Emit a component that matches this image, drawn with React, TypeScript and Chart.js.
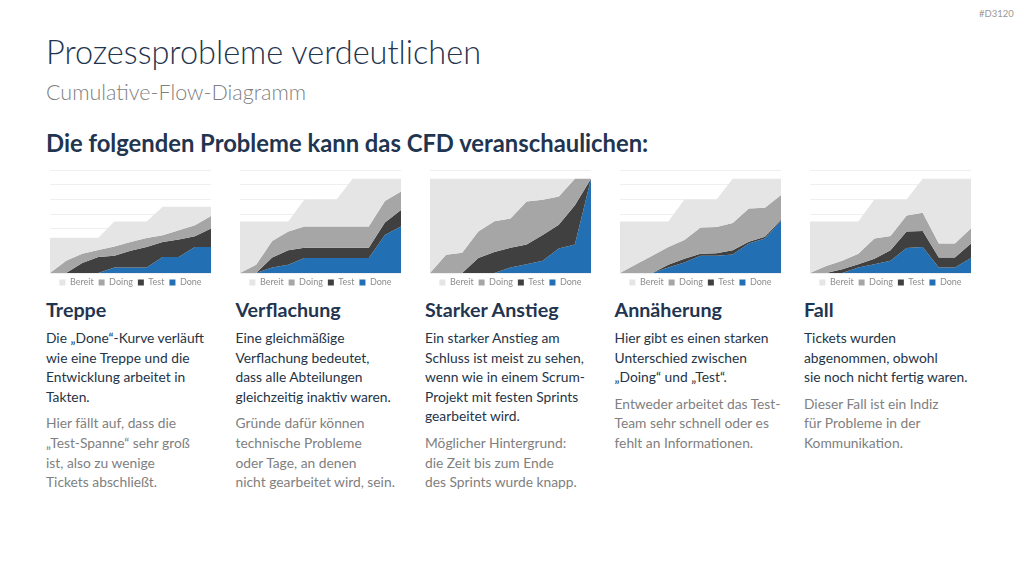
import React, { useEffect, useRef } from "react";
import { Chart, registerables } from "chart.js";

Chart.register(...registerables);

const FONT = "Lato, 'Open Sans', sans-serif";

const days = ["1", "2", "3", "4", "5", "6", "7", "8", "9", "10", "11"];
const seriesNames = ["Bereit", "Doing", "Test", "Done"];
const seriesColors = ["#e5e5e5", "#a6a6a6", "#404040", "#2270b3"];

// Treppe
const treppeBereit = [12, 12, 12, 12, 17.5, 17.5, 17.5, 22.5, 22.5, 22.5, 22.5];
const treppeDoing = [0, 4.2, 6.5, 7.8, 9, 10.5, 11.9, 12.8, 14.5, 16.2, 19.4];
const treppeTest = [0, 0, 3.4, 5.4, 5.9, 7.6, 8.8, 10.5, 11.4, 12.5, 15.1];
const treppeDone = [0, 0, 0, 0, 1.9, 1.9, 1.9, 5.4, 5.4, 8.8, 8.8];

// Verflachung
const verflBereit = [17.5, 17.5, 17.5, 17.5, 25, 25, 25, 32, 32, 32, 32];
const verflDoing = [0, 2.8, 10.9, 14.1, 15.8, 15.8, 15.8, 15.8, 15.8, 24.5, 27.7];
const verflTest = [0, 0, 5.3, 7.7, 8.6, 8.6, 8.6, 8.6, 8.6, 17.2, 21.4];
const verflDone = [0, 0, 1.9, 2.8, 5.1, 5.1, 5.1, 5.1, 5.1, 12.9, 15.8];

// Starker Anstieg
const anstiegBereit = [32, 32, 32, 32, 32, 32, 32, 32, 32, 32, 32];
const anstiegDoing = [0, 6.2, 6.9, 14.1, 17.6, 18.5, 24.3, 24.9, 26, 32, 32];
const anstiegTest = [0, 0, 0, 5.1, 7.1, 8.6, 9.7, 12.9, 16.4, 23, 32];
const anstiegDone = [0, 0, 0, 0, 0, 1.9, 3, 4.2, 8.3, 9.7, 32];

// Annäherung
const annBereit = [17.5, 17.5, 17.5, 17.5, 25, 25, 25, 32, 32, 32, 32];
const annDoing = [0, 3, 5.9, 8.8, 11.2, 15.5, 15.6, 17, 21.9, 22.2, 26.5];
const annTest = [0, 0, 0, 2.8, 4.8, 6.5, 6.7, 7.7, 10.6, 12.3, 18.1];
const annDone = [0, 0, 0, 1.9, 3.6, 5.9, 5.9, 6.3, 10, 11.7, 17.7];

// Fall
const fallBereit = [17.5, 17.5, 17.5, 17.5, 25, 25, 25, 32, 32, 32, 32];
const fallDoing = [0, 2.4, 4.2, 6.5, 11.7, 12.6, 19.5, 20.5, 10, 10, 15.2];
const fallTest = [0, 0, 1.3, 3, 4.8, 7.7, 14.1, 14.3, 5.3, 5.3, 10];
const fallDone = [0, 0, 0, 1.9, 3, 4.2, 8.5, 8.8, 1.9, 1.9, 5.1];

const yMax = 35;
const yStep = 5;

const columns = [
  {
    title: "Treppe",
    series: [treppeBereit, treppeDoing, treppeTest, treppeDone],
    dark: ["Die „Done“-Kurve verläuft", "wie eine Treppe und die", "Entwicklung arbeitet in", "Takten."],
    gray: ["Hier fällt auf, dass die", "„Test-Spanne“ sehr groß", "ist, also zu wenige", "Tickets abschließt."],
  },
  {
    title: "Verflachung",
    series: [verflBereit, verflDoing, verflTest, verflDone],
    dark: ["Eine gleichmäßige", "Verflachung bedeutet,", "dass alle Abteilungen", "gleichzeitig inaktiv waren."],
    gray: ["Gründe dafür können", "technische Probleme", "oder Tage, an denen", "nicht gearbeitet wird, sein."],
  },
  {
    title: "Starker Anstieg",
    series: [anstiegBereit, anstiegDoing, anstiegTest, anstiegDone],
    dark: ["Ein starker Anstieg am", "Schluss ist meist zu sehen,", "wenn wie in einem Scrum-", "Projekt mit festen Sprints", "gearbeitet wird."],
    gray: ["Möglicher Hintergrund:", "die Zeit bis zum Ende", "des Sprints wurde knapp."],
  },
  {
    title: "Annäherung",
    series: [annBereit, annDoing, annTest, annDone],
    dark: ["Hier gibt es einen starken", "Unterschied zwischen", "„Doing“ und „Test“."],
    gray: ["Entweder arbeitet das Test-", "Team sehr schnell oder es", "fehlt an Informationen."],
  },
  {
    title: "Fall",
    series: [fallBereit, fallDoing, fallTest, fallDone],
    dark: ["Tickets wurden", "abgenommen, obwohl", "sie noch nicht fertig waren."],
    gray: ["Dieser Fall ist ein Indiz", "für Probleme in der", "Kommunikation."],
  },
];

function CfdChart({ series, left }: { series: number[][]; left: number }) {
  const ref = useRef<HTMLCanvasElement>(null);
  useEffect(() => {
    if (!ref.current) return;
    const chart = new Chart(ref.current, {
      type: "line",
      data: {
        labels: days,
        datasets: series.map((d, i) => ({
          label: seriesNames[i],
          data: d,
          backgroundColor: seriesColors[i],
          borderColor: seriesColors[i],
          borderWidth: 0,
          pointRadius: 0,
          tension: 0,
          fill: i === series.length - 1 ? "origin" : "+1",
        })),
      },
      options: {
        responsive: false,
        animation: false,
        layout: { padding: { top: 4, left: 0, right: 0, bottom: 0 } },
        plugins: {
          legend: {
            position: "bottom",
            labels: {
              boxWidth: 6,
              boxHeight: 6,
              padding: 5,
              color: "#8c8c8c",
              font: { size: 9, family: FONT },
            },
          },
          tooltip: { enabled: false },
        },
        scales: {
          x: { display: false },
          y: {
            min: 0,
            max: yMax,
            ticks: { display: false, stepSize: yStep },
            grid: { color: "#efefef", drawTicks: false },
            border: { display: false },
          },
        },
      },
    });
    return () => chart.destroy();
  }, [series]);
  return (
    <canvas
      ref={ref}
      width={161}
      height={131}
      style={{ position: "absolute", left, top: 166, width: 161, height: 131 }}
    />
  );
}

export default function App() {
  return (
    <div
      style={{
        position: "fixed",
        left: 0,
        top: 0,
        width: 1024,
        height: 576,
        background: "#ffffff",
        fontFamily: FONT,
        overflow: "hidden",
      }}
    >
      <div style={{ position: "absolute", left: 979, top: 8, fontSize: 9.5, color: "#9a9a9a", lineHeight: "12px" }}>
        #D3120
      </div>
      <div
        style={{
          position: "absolute",
          left: 46,
          top: 32,
          fontSize: 32.5,
          fontWeight: 300,
          color: "#1f3550",
          lineHeight: 1.2,
          whiteSpace: "nowrap",
        }}
      >
        Prozessprobleme verdeutlichen
      </div>
      <div
        style={{
          position: "absolute",
          left: 46,
          top: 80,
          fontSize: 21.5,
          fontWeight: 300,
          color: "#7f7f7f",
          lineHeight: 1.2,
          whiteSpace: "nowrap",
        }}
      >
        Cumulative-Flow-Diagramm
      </div>
      <div
        style={{
          position: "absolute",
          left: 46,
          top: 129,
          fontSize: 23.8,
          fontWeight: 700,
          color: "#1f3550",
          lineHeight: 1.2,
          whiteSpace: "nowrap",
        }}
      >
        Die folgenden Probleme kann das CFD veranschaulichen:
      </div>
      {columns.map((c, i) => (
        <React.Fragment key={c.title}>
          <CfdChart series={c.series} left={50 + 190 * i} />
          <div
            style={{
              position: "absolute",
              left: 46 + 189.5 * i,
              top: 298,
              width: 185,
              whiteSpace: "nowrap",
            }}
          >
            <div style={{ fontSize: 19.7, fontWeight: 700, color: "#1f3550", lineHeight: "24px" }}>{c.title}</div>
            <div
              style={{
                marginTop: 6,
                fontSize: 13.8,
                color: "#243447",
                lineHeight: "19.6px",
              }}
            >
              {c.dark.map((l, k) => (
                <div key={k}>{l}</div>
              ))}
            </div>
            <div
              style={{
                marginTop: 7,
                fontSize: 13.8,
                color: "#808080",
                lineHeight: "19.6px",
              }}
            >
              {c.gray.map((l, k) => (
                <div key={k}>{l}</div>
              ))}
            </div>
          </div>
        </React.Fragment>
      ))}
    </div>
  );
}
